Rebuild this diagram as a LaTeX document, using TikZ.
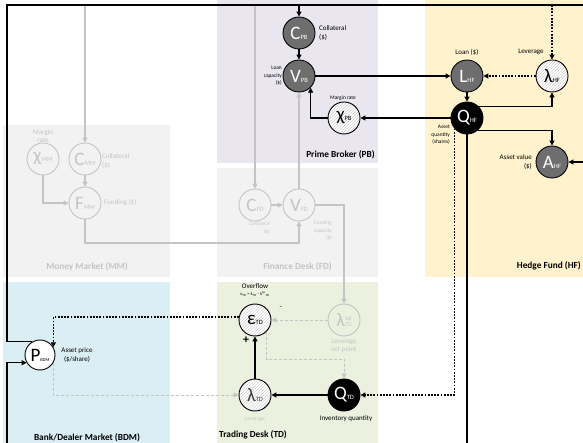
\documentclass[tikz,border=0pt]{standalone}
\usepackage{fontspec}
\setmainfont{Carlito}
\usepackage{tikz}
\usetikzlibrary{arrows.meta,patterns}

\definecolor{pbback}{HTML}{E9E6F0}
\definecolor{mmback}{HTML}{F2F2F2}
\definecolor{hfback}{HTML}{FFF2CC}
\definecolor{bdmback}{HTML}{DAEEF3}
\definecolor{tdback}{HTML}{EBF1DE}
\definecolor{nodegray}{HTML}{6E6E6E}
\definecolor{palegray}{HTML}{C4C4C4}
\definecolor{hatchgray}{HTML}{D4D4D4}

\newcommand{\nsym}[2]{{\fontsize{19}{19}\selectfont #1}{\fontsize{6.5}{6.5}\selectfont #2}}

\begin{document}
\begin{tikzpicture}[x=1pt, y=-1pt, >={Triangle[length=5pt,width=5pt]}, every node/.style={inner sep=0pt}]
	\tikzset{
		var/.style={circle, minimum size=32pt, line width=0.9pt, draw=black},
		darkvar/.style={var, fill=nodegray, text=white},
		blackvar/.style={var, fill=black, text=white},
		hatchvar/.style={var, preaction={fill=white}, pattern=north east lines, pattern color=hatchgray},
		palevar/.style={var, draw=palegray, text=palegray},
		sig/.style={->, line width=1.4pt},
		dotsig/.style={sig, dash pattern=on 1.8pt off 1.4pt},
		faint/.style={->, line width=1.3pt, draw=palegray},
		faintdash/.style={faint, line width=1pt, dash pattern=on 3pt off 2pt},
		tag/.style={font=\fontsize{7}{8.5}\selectfont, align=center},
		smalltag/.style={font=\fontsize{5.4}{7.5}\selectfont, align=center},
		boxtitle/.style={font=\fontsize{9.3}{11}\selectfont\bfseries}
	}
	\useasboundingbox (0,0) rectangle (583,443);
	\clip (0,0) rectangle (583,443);

	\fill[pbback]  (217,0)   rectangle (378,163);
	\fill[mmback]  (3,125)   rectangle (170,277);
	\fill[mmback]  (217,168) rectangle (378,277);
	\fill[hfback]  (425,0)   rectangle (600,277);
	\fill[bdmback] (3,282)   rectangle (170,460);
	\fill[tdback]  (217,282) rectangle (378,460);

	\node[darkvar]  (CPB)   at (299,33)  {\nsym{C}{PB}};
	\node[darkvar]  (VPB)   at (299,76)  {\nsym{V}{PB}};
	\node[hatchvar] (chiPB) at (344,118) {\nsym{χ}{PB}};
	\node[darkvar]  (LHF)   at (467,76)  {\nsym{L}{HF}};
	\node[hatchvar] (lamHF) at (552,76)  {\nsym{λ}{HF}};
	\node[blackvar] (QHF)   at (467,118) {\nsym{Q}{HF}};
	\node[darkvar]  (AHF)   at (552,162) {\nsym{A}{HF}};
	\node[palevar]  (chiMM) at (43,159)  {\nsym{χ}{MM}};
	\node[palevar]  (CMM)   at (85,159)  {\nsym{C}{MM}};
	\node[palevar]  (FMM)   at (85,203)  {\nsym{F}{MM}};
	\node[palevar]  (CFD)   at (255,205) {\nsym{C}{FD}};
	\node[palevar]  (VFD)   at (299,205) {\nsym{V}{FD}};
	\node[hatchvar] (epsTD) at (255,320) {\nsym{ε}{TD}};
	\node[palevar]  (lspTD) at (344,320) {{\fontsize{19}{19}\selectfont λ}\raisebox{6pt}{\fontsize{7}{7}\selectfont sp}\kern-6pt{\fontsize{5.5}{5.5}\selectfont TD}};
	\node[hatchvar, text=black!75] (lamTD) at (255,395) {\nsym{λ}{TD}};
	\node[blackvar] (QTD)   at (344,395) {\nsym{Q}{TD}};
	\node[var, fill=white, minimum size=30pt] (PBDM) at (40,355) {{\fontsize{19}{19}\selectfont P}{\fontsize{4.5}{4.5}\selectfont BDM}};

	\node[tag, align=left, anchor=west]  (lCPB)   at (319,33)  {Collateral\\(\$)};
	\node[smalltag, align=right, anchor=east] (lVPB) at (282,76) {Loan\\capacity\\(\$)};
	\node[smalltag] (lchiPB) at (343,98)  {Margin rate};
	\node[boxtitle, anchor=east] (tPB) at (375,155) {Prime Broker (PB)};
	\node[tag]      (lLHF)   at (467,52)  {Loan (\$)};
	\node[tag]      (llamHF) at (531,52)  {Leverage};
	\node[smalltag, align=right, anchor=east] (lQHF) at (450,135) {Asset\\quantity\\(shares)};
	\node[tag, align=right, anchor=east] (lAHF) at (532,162) {Asset value\\(\$)};
	\node[boxtitle, anchor=east] (tHF) at (581,266) {Hedge Fund (HF)};
	\node[tag, text=palegray] (lchiMM) at (43,136) {Margin\\rate};
	\node[tag, text=palegray, align=left, anchor=west] (lCMM) at (102,161) {Collateral\\(\$)};
	\node[tag, text=palegray, anchor=west] (lFMM) at (104,203) {Funding (\$)};
	\node[boxtitle, text=palegray] (tMM) at (87,267) {Money Market (MM)};
	\node[smalltag, text=palegray, align=right, anchor=east] (lCFD) at (270,228) {Collateral\\(\$)};
	\node[smalltag, text=palegray, align=right, anchor=east] (lVFD) at (332,231) {Funding\\capacity\\(\$)};
	\node[boxtitle, text=palegray, anchor=east] (tFD) at (332,267) {Finance Desk (FD)};
	\node[tag]      (lovf)   at (255,286) {Overflow};
	\node[font=\fontsize{4.5}{5}\selectfont] (lform) at (255,294) {ε\textsubscript{TD} = λ\textsubscript{TD} - λ\textsuperscript{sp}\textsubscript{TD}};
	\node[font=\fontsize{9}{9}\selectfont\bfseries, text=gray] (lminus) at (281,308) {-};
	\node[font=\fontsize{12}{12}\selectfont\bfseries] (lplus) at (246,340) {+};
	\node[tag, text=palegray] (llspTD) at (344,346) {Leverage\\set point};
	\node[smalltag, text=palegray] (llamTD) at (255,419) {Leverage};
	\node[tag]      (lQTD)   at (346,419) {Inventory quantity};
	\node[boxtitle, anchor=west] (tTD) at (219,435) {Trading Desk (TD)};
	\node[tag]      (lPBDM)  at (77,355)  {Asset price\\(\$/share)};
	\node[boxtitle] (tBDM)   at (87,438)  {Bank/Dealer Market (BDM)};

	\coordinate (tl)   at (7,5);
	\coordinate (tr)   at (600,5);
	\coordinate (bl)   at (7,460);
	\coordinate (fund) at (85,243);
	\coordinate (ovf)  at (344,359);

	\draw[faint] (CMM |- tl) -- (CMM);
	\draw[faint] (CFD |- tl) -- (CFD);
	\foreach \from/\to in {
		CMM/FMM, CFD/VFD, VFD/VPB}
	\draw[faint] (\from) -- (\to);
	\draw[faint] (chiMM) |- (FMM);
	\draw[faint] (FMM) -- (fund) -| (VFD);
	\draw[faint] (VFD) -| (lspTD);
	\draw[faintdash] (lspTD) -- (epsTD);
	\draw[faintdash] (epsTD.-45) |- (ovf) -- (QTD);
	\draw[faintdash] (PBDM.-30) |- (lamTD);

	\draw[sig] (PBDM.120) -| (tl) -- (tr) |- (AHF);
	\draw[sig] (CPB |- tl) -- (CPB);
	\draw[dotsig] (lamHF |- tl) -- (lamHF);
	\draw[sig] (QHF) -- (QHF |- bl) -- (bl) |- (PBDM.-150);
	\foreach \from/\to in {
		CPB/VPB, VPB/LHF, LHF/QHF, QHF/chiPB,
		QTD/lamTD, lamTD/epsTD}
	\draw[sig] (\from) -- (\to);
	\draw[sig] (chiPB) -| (VPB.south east);
	\draw[sig] (QHF.43) -| (lamHF);
	\draw[sig] (QHF.-50) -| (AHF);
	\draw[dotsig] (lamHF) -- (LHF);
	\draw[dotsig] (QHF.220) |- (QTD);
	\draw[dotsig] (epsTD.170) -| (PBDM.30);
\end{tikzpicture}
\end{document}
